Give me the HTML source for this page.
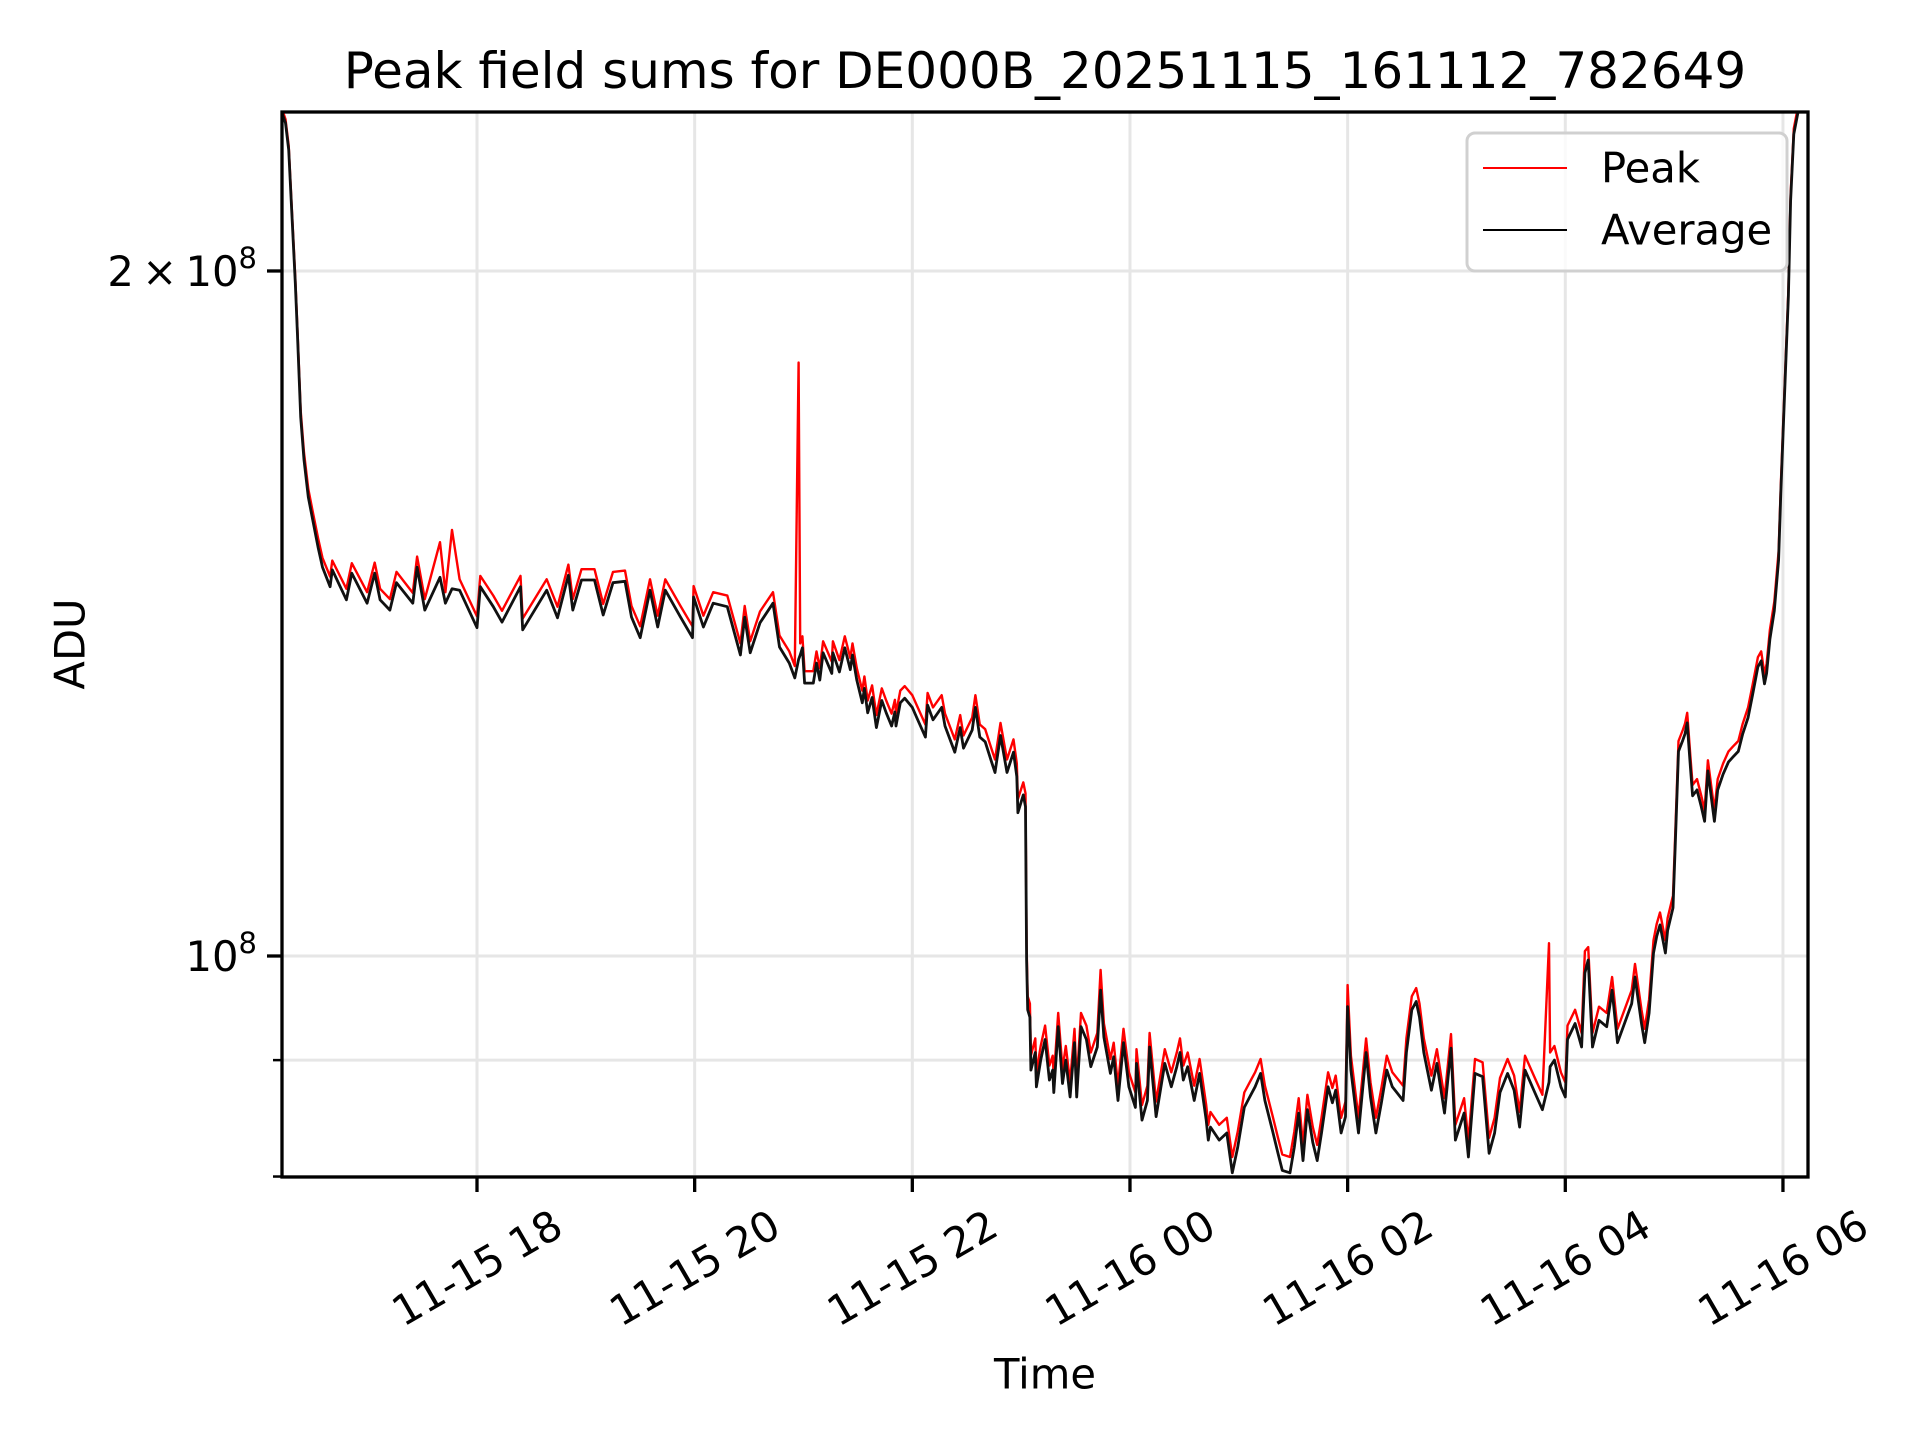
<!DOCTYPE html>
<html><head><meta charset="utf-8"><title>Peak field sums</title>
<style>html,body{margin:0;padding:0;background:#fff}svg{display:block}text{font-family:"DejaVu Sans","Liberation Sans",sans-serif;fill:#000}</style>
</head><body>
<svg id="chart" width="1920" height="1440" viewBox="0 0 1920 1440" xmlns="http://www.w3.org/2000/svg">
<rect width="1920" height="1440" fill="#fff"/>
<defs><clipPath id="plotclip"><rect x="282" y="112" width="1526" height="1065"/></clipPath></defs>
<g id="grid"></g>
<g id="series" clip-path="url(#plotclip)"></g>
<rect x="282" y="112" width="1526" height="1065" fill="none" stroke="#000" stroke-width="3.3"/>
<g id="axes"></g>
<text x="1045" y="88" font-size="50" text-anchor="middle">Peak field sums for DE000B_20251115_161112_782649</text>
<text x="1045" y="1374" font-size="41.7" text-anchor="middle" dominant-baseline="central">Time</text>
<text x="0" y="0" font-size="41.7" text-anchor="middle" dominant-baseline="central" transform="translate(70,644) rotate(-90)">ADU</text>
<g>
<rect x="1467" y="133" width="320" height="138" rx="8" fill="#fff" fill-opacity="0.8" stroke="#d0d0d0" stroke-width="3"/>
<line x1="1483" y1="168" x2="1567" y2="168" stroke="#ff0000" stroke-width="2"/>
<text x="1601" y="168" font-size="41.7" dominant-baseline="central">Peak</text>
<line x1="1483" y1="230" x2="1567" y2="230" stroke="#000" stroke-width="2"/>
<text x="1601" y="230" font-size="41.7" dominant-baseline="central">Average</text>
</g>
</svg>
<script>
// time in hours of day (values > 24 are on 11-16); values in millions of ADU
const times = [16.21,16.24,16.27,16.30,16.33,16.35,16.38,16.41,16.45,16.49,16.54,16.58,16.65,16.67,16.80,16.85,16.99,17.06,17.11,17.20,17.26,17.41,17.45,17.52,17.66,17.71,17.77,17.84,18.00,18.03,18.15,18.23,18.40,18.42,18.64,18.74,18.84,18.88,18.96,19.08,19.16,19.25,19.36,19.42,19.50,19.59,19.66,19.73,19.87,19.98,19.99,20.08,20.17,20.30,20.42,20.46,20.51,20.60,20.72,20.78,20.87,20.92,20.955,20.97,20.99,21.01,21.09,21.12,21.15,21.18,21.26,21.27,21.33,21.38,21.43,21.45,21.49,21.54,21.56,21.59,21.63,21.67,21.72,21.76,21.81,21.84,21.85,21.89,21.93,22.00,22.04,22.12,22.14,22.19,22.27,22.30,22.39,22.44,22.47,22.55,22.58,22.62,22.67,22.73,22.76,22.81,22.87,22.93,22.96,22.97,23.02,23.04,23.05,23.06,23.08,23.09,23.13,23.14,23.18,23.22,23.26,23.29,23.30,23.34,23.38,23.41,23.45,23.49,23.51,23.55,23.60,23.64,23.70,23.73,23.76,23.82,23.85,23.89,23.94,23.99,24.05,24.06,24.11,24.16,24.18,24.24,24.29,24.32,24.38,24.43,24.46,24.49,24.53,24.59,24.64,24.70,24.72,24.74,24.82,24.89,24.94,24.99,25.05,25.10,25.15,25.20,25.24,25.31,25.36,25.40,25.47,25.51,25.55,25.59,25.63,25.68,25.72,25.76,25.82,25.86,25.89,25.94,25.98,26.00,26.03,26.10,26.17,26.21,26.26,26.31,26.36,26.41,26.51,26.54,26.59,26.63,26.66,26.70,26.77,26.82,26.89,26.95,26.99,27.07,27.11,27.17,27.24,27.30,27.35,27.40,27.47,27.53,27.58,27.63,27.72,27.79,27.85,27.86,27.90,27.96,28.00,28.02,28.09,28.15,28.18,28.21,28.25,28.31,28.38,28.43,28.48,28.61,28.64,28.70,28.73,28.77,28.81,28.84,28.87,28.92,28.94,28.99,29.01,29.04,29.08,29.10,29.12,29.15,29.17,29.21,29.25,29.28,29.31,29.34,29.37,29.40,29.45,29.50,29.54,29.59,29.63,29.68,29.72,29.77,29.80,29.83,29.85,29.88,29.92,29.96,29.98,30.01,30.05,30.07,30.10,30.14];
const averageValues = [234.6,232.3,226.1,211.3,197.6,187.8,172.5,165.2,159.1,155.5,151.2,148.2,145.3,147.8,143.4,147.3,142.9,147.3,143.4,141.9,145.9,142.9,148.2,141.9,146.7,142.9,145.0,144.8,139.4,145.3,142.4,140.2,145.3,139.1,144.8,140.8,147.0,141.9,146.3,146.3,141.2,145.9,146.1,140.9,138.0,144.8,139.5,144.8,140.9,138.0,143.8,139.5,142.9,142.4,135.6,140.9,135.9,140.1,142.9,136.7,134.5,132.5,135.0,135.6,136.6,131.8,131.8,134.5,132.2,135.9,133.1,135.9,133.3,136.6,133.6,135.6,132.2,129.2,131.1,127.9,129.9,126.0,129.5,127.9,126.2,128.0,126.2,129.2,129.8,128.6,127.3,124.8,128.9,127.0,128.6,126.2,122.9,126.0,123.4,125.7,128.6,124.8,124.2,121.6,120.4,125.0,120.4,122.9,119.9,115.6,117.7,116.3,99.6,94.7,94.0,89.1,90.7,87.6,90.0,91.9,88.2,89.1,87.1,93.1,87.9,90.0,86.7,91.6,86.7,93.1,91.9,89.4,91.2,96.6,92.1,88.8,90.3,86.4,91.6,87.6,85.8,89.7,84.7,86.4,91.2,85.0,87.9,89.7,87.6,89.4,90.7,88.2,89.4,86.4,88.8,84.7,83.0,84.1,83.0,83.6,80.3,82.4,85.8,86.7,87.6,88.8,86.4,83.8,81.9,80.5,80.3,82.4,85.3,81.3,85.6,82.8,81.3,83.6,87.6,86.2,87.3,83.6,85.0,95.0,89.1,83.6,90.7,86.7,83.6,86.2,89.1,87.6,86.4,90.7,94.7,95.5,94.0,90.7,87.3,89.7,85.3,91.1,83.0,85.3,81.6,88.8,88.5,81.9,83.6,87.1,88.8,87.3,84.1,89.1,87.1,85.6,88.0,89.4,90.0,87.6,86.7,91.9,93.4,91.2,98.3,99.6,91.2,93.7,93.1,96.6,91.6,95.3,97.9,93.4,91.6,94.4,100.3,102.0,103.2,100.3,102.6,105.0,111.7,123.0,124.4,125.2,126.6,120.9,117.6,118.3,116.3,114.6,120.6,117.6,114.6,118.3,120.2,121.7,122.3,123.0,125.2,127.3,130.2,134.0,134.8,131.7,133.1,137.8,141.8,149.3,159.7,173.9,195.0,214.7,229.7,235.1];
const peakValues = [235.5,233.2,227.0,212.3,198.6,188.8,173.6,166.4,160.4,156.8,152.6,149.6,146.8,149.2,145.0,148.8,144.5,148.9,145.0,143.5,147.5,144.4,149.8,143.5,152.0,144.5,153.9,146.4,141.0,146.9,144.0,141.8,146.9,140.7,146.4,142.4,148.6,143.5,147.9,147.9,142.8,147.5,147.7,142.5,139.6,146.4,141.1,146.4,142.5,139.6,145.4,141.1,144.5,144.0,137.2,142.5,137.5,141.7,144.5,138.3,136.1,134.1,182.3,137.2,138.2,133.4,133.4,136.1,133.8,137.5,134.7,137.5,134.9,138.2,135.2,137.2,133.8,130.8,132.7,129.5,131.5,127.6,131.1,129.5,127.8,129.6,127.8,130.8,131.4,130.2,128.9,126.4,130.5,128.6,130.2,127.8,124.5,127.6,125.0,127.3,130.2,126.4,125.8,123.2,122.0,126.6,122.0,124.5,121.5,117.2,119.2,117.9,101.0,96.0,95.3,90.4,92.0,88.9,91.3,93.2,89.5,90.4,88.4,94.4,89.2,91.3,88.0,92.9,88.0,94.4,93.2,90.7,92.5,98.6,93.4,90.1,91.6,87.7,92.9,88.9,87.1,91.0,86.0,87.7,92.5,86.3,89.2,91.0,88.9,90.7,92.0,89.5,90.7,87.7,90.1,86.0,84.3,85.4,84.3,84.9,81.6,83.7,87.1,88.0,88.9,90.1,87.7,85.1,83.2,81.8,81.6,83.7,86.6,82.6,86.9,84.1,82.6,84.9,88.9,87.5,88.6,84.9,86.3,97.1,90.4,84.9,92.0,88.0,84.9,87.5,90.4,88.9,87.7,92.0,96.0,96.8,95.3,92.0,88.6,91.0,86.6,92.4,84.3,86.6,82.9,90.1,89.8,83.2,84.9,88.4,90.1,88.6,85.4,90.4,88.4,86.9,101.3,90.7,91.3,88.9,88.0,93.2,94.7,92.5,100.5,100.9,92.5,95.0,94.4,97.9,92.9,96.6,99.2,94.7,92.9,95.7,101.6,103.3,104.5,101.6,103.9,106.3,113.0,124.3,125.7,126.5,127.9,122.2,118.9,119.6,117.6,115.9,121.9,118.9,115.9,119.6,121.5,123.0,123.6,124.3,126.5,128.6,131.5,135.3,136.1,133.0,134.4,139.1,143.1,150.6,161.0,175.2,196.3,216.0,231.0,236.4];
const xTickHours = [18,20,22,24,26,28,30];
const xTickLabels = ["11-15 18","11-15 20","11-15 22","11-16 00","11-16 02","11-16 04","11-16 06"];
const yMajorValues = [100,200];
const yMinorValues = [80,90];

const NS = "http://www.w3.org/2000/svg";
function xPx(h){ return 477 + (h - 18) * 108.83; }
function yPx(v){ return 956 - 2275.6 * Math.log10(v / 100); }
function mk(tag, attrs, parent){
  const e = document.createElementNS(NS, tag);
  for (const k in attrs) e.setAttribute(k, attrs[k]);
  parent.appendChild(e);
  return e;
}
const grid = document.getElementById('grid');
const axes = document.getElementById('axes');
const series = document.getElementById('series');

xTickHours.forEach((h, i) => {
  const x = xPx(h);
  const g = mk('line', {x1:x, y1:112, x2:x, y2:1177, stroke:'#e6e6e6', 'stroke-width':3}, grid);
  
  
  const t = mk('line', {x1:x, y1:1177, x2:x, y2:1192, stroke:'#000', 'stroke-width':3.3}, axes);
  
  
  const lb = mk('text', {x:0, y:0, 'font-size':41.7, 'text-anchor':'middle', 'dominant-baseline':'central', transform:'translate(' + x + ',1268) rotate(-30)'}, axes);
  lb.textContent = xTickLabels[i];
  
  
});
yMajorValues.concat(yMinorValues).forEach(v => {
  const y = yPx(v);
  const g = mk('line', {x1:282, y1:y, x2:1808, y2:y, stroke:'#e6e6e6', 'stroke-width':3}, grid);
  
  
});
yMajorValues.forEach(v => {
  const y = yPx(v);
  const t = mk('line', {x1:267, y1:y, x2:282, y2:y, stroke:'#000', 'stroke-width':3.3}, axes);
  
  
  const lb = mk('text', {x:257, y:y + 15, 'font-size':41.7, 'text-anchor':'end'}, axes);
  const m = Math.round(v / 100);
  if (m === 1) {
    lb.innerHTML = '10<tspan dy="-18" font-size="29">8</tspan>';
  } else {
    lb.innerHTML = m + '\u2009\u00d7\u200910<tspan dy="-18" font-size="29">8</tspan>';
  }
  
  
});
yMinorValues.forEach(v => {
  const y = yPx(v);
  const t = mk('line', {x1:273, y1:y, x2:282, y2:y, stroke:'#000', 'stroke-width':2.5}, axes);
  
  
});
function pathFor(vals){
  return times.map((h, i) => (i ? 'L' : 'M') + xPx(h).toFixed(1) + ' ' + yPx(vals[i]).toFixed(1)).join(' ');
}
const peak = mk('path', {d:pathFor(peakValues), fill:'none', stroke:'#ff0000', 'stroke-width':2.4, 'stroke-linejoin':'round'}, series);


const avg = mk('path', {d:pathFor(averageValues), fill:'none', stroke:'#111', 'stroke-width':2.8, 'stroke-linejoin':'round'}, series);


</script>
</body></html>
